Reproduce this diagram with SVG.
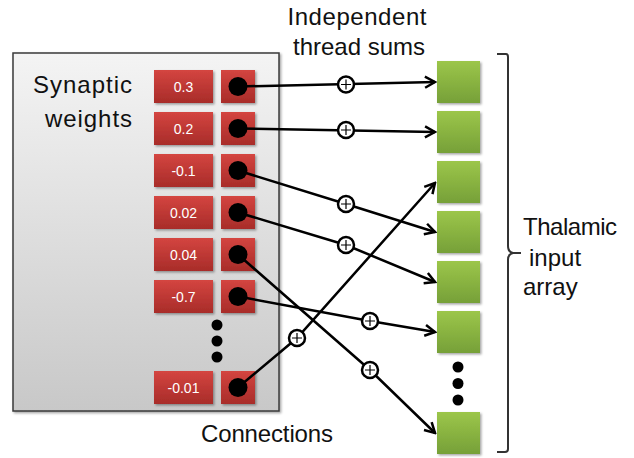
<svg xmlns="http://www.w3.org/2000/svg" width="634" height="458" viewBox="0 0 634 458">
<style>
.lbl{font-family:"Liberation Sans",Arial,sans-serif;fill:#111;font-size:24px}
.w{font-family:"Liberation Sans",Arial,sans-serif;fill:#fff;font-size:14px;text-anchor:middle}
.red{fill:url(#gr);filter:url(#sh)}
.grn{fill:url(#gg);filter:url(#sh)}
.dot{fill:#000}
.con{fill:none;stroke:#000;stroke-width:2.5;marker-end:url(#ah)}
.plus circle{fill:#fff;stroke:#000;stroke-width:2.5}
.plus path{stroke:#000;stroke-width:1.2;fill:none}
</style>
<defs>
<linearGradient id="gr" x1="0" y1="0" x2="0" y2="1"><stop offset="0" stop-color="#d44540"/><stop offset="1" stop-color="#a82c29"/></linearGradient>
<linearGradient id="gg" x1="0" y1="0" x2="0" y2="1"><stop offset="0" stop-color="#9cc64a"/><stop offset="1" stop-color="#76a038"/></linearGradient>
<linearGradient id="gb" x1="0" y1="0" x2="0" y2="1"><stop offset="0" stop-color="#f4f4f4"/><stop offset="1" stop-color="#c8c8c8"/></linearGradient>
<filter id="sh" x="-20%" y="-20%" width="150%" height="150%"><feDropShadow dx="1.5" dy="1.5" stdDeviation="1.2" flood-color="#000" flood-opacity="0.35"/></filter>
<marker id="ah" markerUnits="userSpaceOnUse" viewBox="0 0 14 14" markerWidth="14" markerHeight="14" refX="12" refY="7" orient="auto"><path d="M2,1.5 L12,7 L2,12.5" fill="none" stroke="#000" stroke-width="2.5"/></marker>
</defs>

<g id="weights-panel">
<rect x="13" y="53" width="266" height="358" fill="url(#gb)" stroke="#3a3a3a" stroke-width="1.5" filter="url(#sh)"/>
<text class="lbl" x="132" y="93" text-anchor="end" textLength="99" lengthAdjust="spacing">Synaptic</text>
<text class="lbl" x="132" y="127" text-anchor="end" textLength="87" lengthAdjust="spacing">weights</text>
</g>

<g id="w0"><rect class="red" x="154" y="70" width="59" height="33"/><text class="w" x="183.5" y="91.5">0.3</text><rect class="red" x="221" y="70" width="34" height="33"/><circle class="dot" cx="238" cy="86.5" r="9.5"/></g>
<g id="w1"><rect class="red" x="154" y="112" width="59" height="33"/><text class="w" x="183.5" y="133.5">0.2</text><rect class="red" x="221" y="112" width="34" height="33"/><circle class="dot" cx="238" cy="128.5" r="9.5"/></g>
<g id="w2"><rect class="red" x="154" y="154" width="59" height="33"/><text class="w" x="183.5" y="175.5">-0.1</text><rect class="red" x="221" y="154" width="34" height="33"/><circle class="dot" cx="238" cy="170.5" r="9.5"/></g>
<g id="w3"><rect class="red" x="154" y="196" width="59" height="33"/><text class="w" x="183.5" y="217.5">0.02</text><rect class="red" x="221" y="196" width="34" height="33"/><circle class="dot" cx="238" cy="212.5" r="9.5"/></g>
<g id="w4"><rect class="red" x="154" y="238" width="59" height="33"/><text class="w" x="183.5" y="259.5">0.04</text><rect class="red" x="221" y="238" width="34" height="33"/><circle class="dot" cx="238" cy="254.5" r="9.5"/></g>
<g id="w5"><rect class="red" x="154" y="280" width="59" height="33"/><text class="w" x="183.5" y="301.5">-0.7</text><rect class="red" x="221" y="280" width="34" height="33"/><circle class="dot" cx="238" cy="296.5" r="9.5"/></g>
<g id="w-ellipsis"><circle class="dot" cx="217" cy="325" r="5.5"/><circle class="dot" cx="217" cy="341" r="5.5"/><circle class="dot" cx="217" cy="357" r="5.5"/></g>
<g id="w6"><rect class="red" x="154" y="371" width="59" height="33"/><text class="w" x="183.5" y="392.5">-0.01</text><rect class="red" x="221" y="371" width="34" height="33"/><circle class="dot" cx="238" cy="387.5" r="9.5"/></g>

<g id="thalamic-array">
<rect class="grn" x="437" y="61" width="43" height="42"/>
<rect class="grn" x="437" y="111" width="43" height="42"/>
<rect class="grn" x="437" y="161" width="43" height="42"/>
<rect class="grn" x="437" y="211" width="43" height="42"/>
<rect class="grn" x="437" y="261" width="43" height="42"/>
<rect class="grn" x="437" y="311" width="43" height="42"/>
<circle class="dot" cx="458" cy="367" r="5.5"/><circle class="dot" cx="458" cy="383.5" r="5.5"/><circle class="dot" cx="458" cy="400" r="5.5"/>
<rect class="grn" x="437" y="412" width="43" height="42"/>
</g>

<g id="connectors">
<polyline class="con" points="238,86.5 435,82"/>
<polyline class="con" points="238,128.5 435,132"/>
<polyline class="con" points="238,170.5 346,204 435,232"/>
<polyline class="con" points="238,212.5 346,245 435,282"/>
<polyline class="con" points="238,254.5 370,370 435,433"/>
<polyline class="con" points="238,296.5 370,321 435,332"/>
<polyline class="con" points="238,387.5 297,338 435,183"/>
</g>

<g id="sums">
<g class="plus"><circle cx="346" cy="84.5" r="8"/><path d="M341,84.5h10M346,79.5v10"/></g>
<g class="plus"><circle cx="346" cy="130" r="8"/><path d="M341,130h10M346,125v10"/></g>
<g class="plus"><circle cx="346" cy="204" r="8"/><path d="M341,204h10M346,199v10"/></g>
<g class="plus"><circle cx="346" cy="245" r="8"/><path d="M341,245h10M346,240v10"/></g>
<g class="plus"><circle cx="370" cy="321" r="8"/><path d="M365,321h10M370,316v10"/></g>
<g class="plus"><circle cx="370" cy="370" r="8"/><path d="M365,370h10M370,365v10"/></g>
<g class="plus"><circle cx="297" cy="338" r="8"/><path d="M292,338h10M297,333v10"/></g>
</g>

<g id="labels">
<text class="lbl" x="357" y="25" text-anchor="middle" textLength="139" lengthAdjust="spacing">Independent</text>
<text class="lbl" x="359" y="55" text-anchor="middle" textLength="132" lengthAdjust="spacing">thread sums</text>
<text class="lbl" x="201" y="442" textLength="132" lengthAdjust="spacing">Connections</text>
<text class="lbl" x="523" y="235" textLength="94" lengthAdjust="spacing">Thalamic</text>
<text class="lbl" x="529" y="266">input</text>
<text class="lbl" x="523" y="295">array</text>
</g>

<g id="bracket">
<path d="M497,54 L506,54 Q508,54 508,57 L508,246 Q508,252 513,253 L521,253 M513,253 Q508,254 508,260 L508,449 Q508,452 505,452 L497,452" fill="none" stroke="#333" stroke-width="2"/>
</g>
</svg>
